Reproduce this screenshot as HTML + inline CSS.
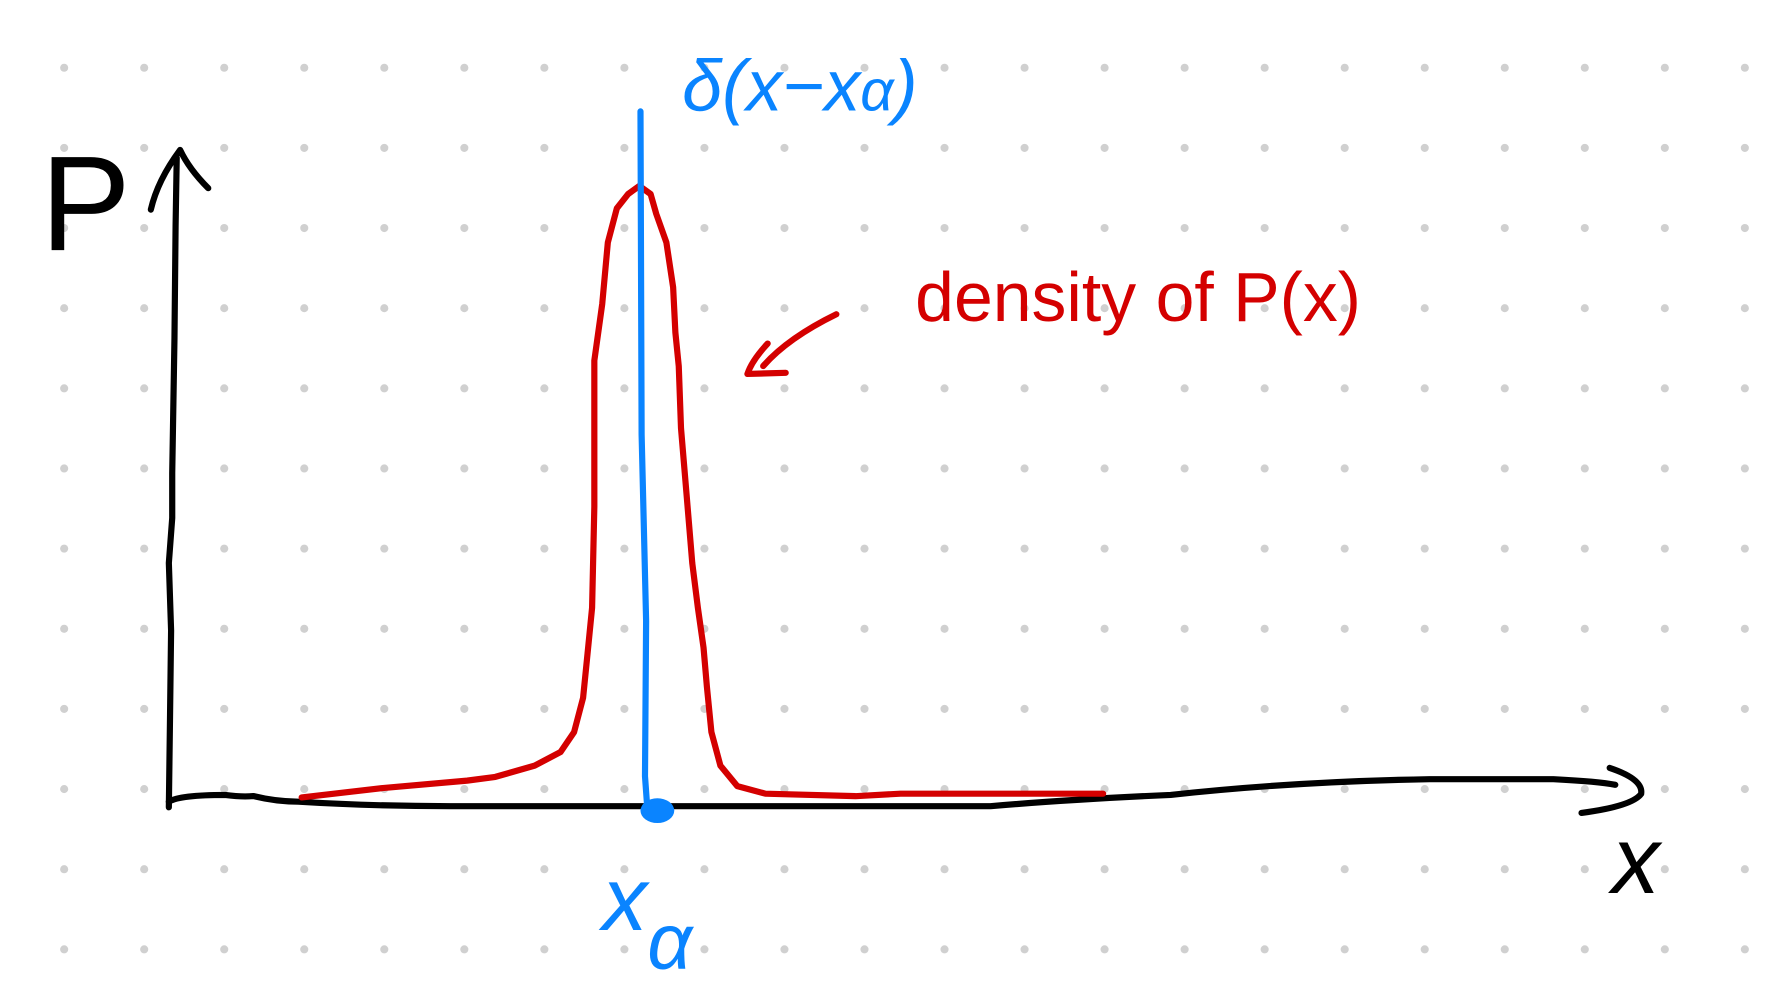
<!DOCTYPE html>
<html><head><meta charset="utf-8"><style>
html,body{margin:0;padding:0;background:#fff;width:1765px;height:1000px;overflow:hidden}
svg{display:block}
text{font-family:"Liberation Sans",sans-serif}
</style></head><body>
<svg id="chart" width="1765" height="1000" viewBox="0 0 1568 888" xmlns="http://www.w3.org/2000/svg">
<g id="dots"></g>
<g fill="none" stroke-linecap="round" stroke-linejoin="round">
<path d="M150,717 L151,640 L152,560 L150,500 L153,460 L153,420 L155,300 L156,200 L157,140" stroke="#000" stroke-width="5.5"/>
<path d="M134,186 Q140,160 160,133 Q168,150 185,167" stroke="#000" stroke-width="5.5"/>
<path d="M150,712 Q160,706 200,706 Q215,708 225,707 Q245,712 265,712 Q330,716 400,716 L600,716 L880,716 Q950,710 1040,706 Q1150,694 1270,692 L1380,692 Q1420,694 1435,697" stroke="#000" stroke-width="5.5"/>
<path d="M1430,682 Q1460,692 1458,705 Q1450,716 1405,722" stroke="#000" stroke-width="5.5"/>
<path id="density" stroke="#d40000" stroke-width="5.5"/>
<path id="delta" stroke="#0a84ff" stroke-width="5.5"/>
<path d="M743,279 Q700,300 678,325 M682,305 Q668,320 664,332 L698,331" stroke="#d40000" stroke-width="5.5"/>
</g>
<ellipse id="deltadot" rx="15" ry="11" fill="#0a84ff"/>
<text x="36" y="222" font-size="120" fill="#000">P</text>
<text x="1432" y="793" font-size="85" font-style="italic" fill="#000">x</text>
<text x="606" y="98" font-size="64" font-style="italic" fill="#0a84ff">δ(x−x<tspan font-size="52">α</tspan>)</text>
<text x="813" y="285" font-size="62" fill="#d40000">density of P(x)</text>
<text x="535" y="826" font-size="80" font-style="italic" fill="#0a84ff">x<tspan font-size="70" dy="34">α</tspan></text>
</svg>
<script>
// data: x in units relative to x_alpha (1 unit = 100px), density normalised to peak = 1
const densX = [-3.00,-2.28,-1.53,-1.28,-0.93,-0.70,-0.58,-0.50,-0.46,-0.42,-0.40,-0.40,-0.33,-0.28,-0.20,-0.10,0.00,0.10,0.15,0.24,0.30,0.32,0.35,0.37,0.42,0.47,0.52,0.57,0.60,0.64,0.72,0.87,1.12,1.92,2.32,4.12];
const densY = [0.016,0.031,0.043,0.049,0.067,0.089,0.121,0.176,0.248,0.321,0.484,0.719,0.810,0.909,0.964,0.987,1.000,0.987,0.955,0.909,0.837,0.764,0.710,0.610,0.502,0.393,0.321,0.257,0.194,0.121,0.067,0.034,0.022,0.018,0.022,0.022];
const deltaX = 0.0;
const deltaHeight = 1.12;
const x0 = 568, y0 = 717, sx = 100, sy = 552;
function px(v){return x0 + v*sx;}
function py(v){return y0 - v*sy;}
let d = '';
densX.forEach((v,i)=>{ d += (i?' L':'M') + px(v).toFixed(1) + ',' + py(densY[i]).toFixed(1); });
document.getElementById('density').setAttribute('d', d);
const dx = px(deltaX);
document.getElementById('delta').setAttribute('d', `M${dx+1},${py(deltaHeight)} L${dx+2},${py(0.6)} L${dx+6},${py(0.3)} L${dx+5},${py(0.05)} L${dx+7},${py(0)}`);
const dot = document.getElementById('deltadot');
dot.setAttribute('cx', dx+16); dot.setAttribute('cy', py(0)+3);
const g = document.getElementById('dots');
for (let x=57; x<1568; x+=71.1) for (let y=60; y<888; y+=71.2) {
  const c = document.createElementNS('http://www.w3.org/2000/svg','circle');
  
  
  c.setAttribute('cx', x.toFixed(1)); c.setAttribute('cy', y.toFixed(1)); c.setAttribute('r', 3.6);
  c.setAttribute('fill', '#d0d0d0');
  g.appendChild(c);
}
</script>
</body></html>
